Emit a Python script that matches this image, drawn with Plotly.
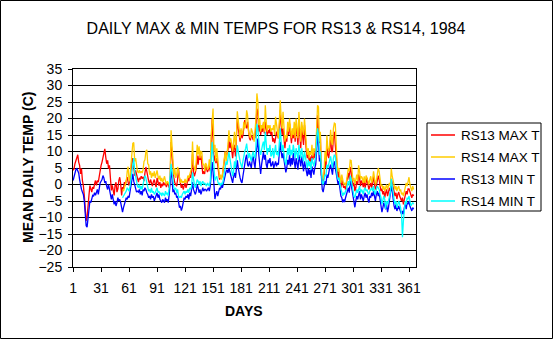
import plotly.graph_objects as go

# ---- data: daily mean temperatures, 1984 (deg C) ----
days = list(range(1, 367))
rs14_first_day = 54  # RS14 record begins on day 54

rs13_max = [
    4.3, 4.8, 6.3, 7.3, 8.3, 9.0, 6.8, 5.8, 3.2, 4.8,
    1.2, -0.3, -3.3, -7.4, -11.0, -10.0, -5.4, -3.3, -0.3, -1.8,
    -2.3, -0.8, -1.3, 0.2, 1.2, -0.3, 1.2, 0.7, 2.7, 3.7,
    5.8, 6.8, 8.3, 9.8, 10.8, 8.3, 6.3, 7.3, 4.8, 5.8,
    0.7, -1.8, -0.3, -2.3, -3.3, -0.3, 0.7, -2.3, -1.3, 1.2,
    2.2, 0.2, -3.3, -0.8, -1.3, 0.7, -0.3, 1.2, 2.2, 0.7,
    -0.3, 1.2, 4.8, 6.8, 8.0, 5.3, 2.7, 4.3, 3.2, 1.7,
    0.7, 2.0, 1.5, 2.5, 1.8, 2.3, 1.0, 3.5, 5.3, 4.0,
    2.0, 1.0, 0.3, 1.5, 0.5, -0.5, 0.8, 1.5, 0.2, -0.8,
    2.0, 0.5, -0.3, 0.7, -1.0, 0.2, -0.5, 0.7, -0.2, 0.3,
    -0.8, 0.5, 0.0, -1.0, 1.0, 12.9, 8.0, 6.3, 2.0, 0.5,
    0.0, -0.5, 1.5, 4.8, 2.0, -0.5, -1.0, 0.0, -1.5, -0.5,
    0.5, -1.0, 0.0, 2.0, 1.0, 3.0, 2.0, 4.0, 9.3, 4.0,
    2.5, 3.5, 5.0, 8.8, 6.0, 8.8, 7.5, 8.8, 5.0, 3.2,
    4.0, 3.2, 5.8, 4.5, 3.8, 4.5, 5.8, 4.0, 12.0, 20.0,
    14.0, 7.0, 8.8, 6.5, 8.0, 6.0, 2.7, 1.5, 2.5, 2.0,
    2.7, 4.5, 7.0, 10.0, 8.0, 9.5, 10.5, 13.9, 11.0, 12.8,
    9.0, 8.0, 11.0, 12.0, 8.5, 13.0, 20.0, 17.0, 15.0, 13.0,
    16.5, 14.0, 15.0, 17.0, 19.5, 18.0, 17.0, 19.0, 15.0, 14.0,
    13.4, 15.0, 14.5, 13.5, 15.0, 14.0, 18.0, 23.0, 22.0, 16.0,
    18.0, 15.0, 17.0, 16.0, 18.5, 15.5, 19.0, 17.0, 15.0, 16.5,
    15.5, 17.0, 15.0, 16.0, 13.0, 14.0, 12.5, 14.0, 16.0, 15.0,
    14.0, 17.0, 22.5, 18.0, 15.0, 17.0, 12.0, 11.0, 14.0, 13.0,
    17.0, 15.0, 18.5, 14.0, 12.5, 16.0, 14.0, 17.0, 13.0, 18.5,
    15.0, 12.0, 19.0, 16.0, 11.0, 17.0, 14.0, 12.0, 18.0, 13.0,
    10.0, 8.0, 9.5, 7.0, 8.5, 6.0, 9.0, 7.5, 10.0, 8.0,
    9.5, 14.0, 21.0, 16.0, 12.5, 15.0, 3.0, 1.5, 1.0, 2.5,
    8.0, 5.0, 12.0, 9.0, 8.0, 11.0, 14.5, 10.0, 10.0, 14.0,
    16.0, 12.0, 9.0, 5.0, 2.0, 4.0, 0.5, -1.0, 1.5, -0.5,
    -1.0, -0.5, -1.5, 0.5, 2.0, 3.5, 1.5, 5.3, 4.0, 1.0,
    -0.5, 0.5, -2.0, -1.0, 1.0, 0.0, 3.0, 2.0, -0.5, 1.2,
    0.5, -0.8, 1.2, -1.0, 0.5, 2.0, 0.0, -1.5, -0.5, 0.5,
    -1.0, 0.5, 2.5, 0.0, -1.5, -0.5, 1.0, 2.7, 1.5, 0.0,
    -2.0, -1.3, -3.0, -2.0, -4.0, -2.5, -1.5, -3.5, -2.0, -1.0,
    -2.0, 1.7, 0.5, -1.0, -2.3, -3.5, -2.5, -4.4, -3.0, -2.3,
    -3.5, -4.5, -5.0, -4.0, -6.0, -4.5, -3.5, -2.0, -3.0, -1.3,
    -1.3, -2.5, -3.5, -4.0, -3.0, -3.5,
]

rs14_max = [
    -1.5, -2.0, -1.0, 0.0, 1.0, 4.0, 5.4,
    1.0, 2.0, 6.0, 9.0, 12.5, 12.7, 7.0, 8.0, 5.0, 4.0,
    3.5, 4.3, 3.5, 4.0, 3.5, 4.5, 7.0, 7.5, 10.0, 10.5,
    6.3, 6.0, 3.0, 4.0, 2.0, 3.5, 2.5, 4.0, 2.0, 3.0,
    4.3, 2.5, 1.5, 2.7, 1.0, 2.0, 0.7, 1.5, 2.5, 1.0,
    0.0, 1.0, 0.5, 0.0, 2.0, 16.4, 11.9, 8.0, 3.0, 5.0,
    2.0, 3.0, 5.3, 4.0, 1.7, 0.5, 1.5, 0.5, 1.0, 0.5,
    1.7, 0.5, 1.0, 2.7, 2.0, 2.7, 4.0, 5.0, 13.0, 6.0,
    5.0, 4.0, 7.0, 12.0, 9.0, 11.6, 8.0, 10.0, 9.8, 6.0,
    6.3, 4.0, 6.5, 6.0, 4.5, 5.0, 7.6, 5.0, 15.0, 21.0,
    23.0, 10.0, 12.0, 7.0, 11.0, 8.0, 3.7, 2.0, 3.0, 1.5,
    3.0, 5.0, 8.0, 10.0, 7.0, 9.0, 12.0, 16.4, 13.0, 14.0,
    11.0, 10.0, 13.0, 16.0, 11.0, 14.0, 22.2, 19.0, 16.0, 14.0,
    17.0, 15.0, 16.0, 19.0, 17.0, 18.0, 22.5, 21.0, 16.0, 15.0,
    14.0, 17.0, 16.0, 15.0, 13.0, 16.0, 20.0, 27.6, 25.0, 18.0,
    20.0, 16.0, 18.0, 17.0, 19.0, 16.0, 24.0, 19.0, 16.0, 18.0,
    17.0, 18.0, 16.0, 17.0, 16.5, 18.0, 15.0, 20.5, 18.0, 16.0,
    14.0, 19.0, 25.5, 20.0, 17.0, 22.0, 15.0, 13.0, 15.0, 14.0,
    19.0, 16.0, 20.0, 15.0, 14.0, 17.0, 15.0, 19.0, 14.0, 20.0,
    16.0, 14.0, 22.0, 17.0, 13.0, 19.0, 16.0, 15.0, 20.0, 14.0,
    12.0, 9.0, 11.0, 8.0, 10.0, 9.0, 12.0, 8.5, 11.0, 10.0,
    11.0, 17.0, 24.0, 23.5, 13.0, 16.0, 4.0, 2.5, 1.5, 4.0,
    10.0, 7.0, 14.9, 11.0, 10.0, 12.0, 16.6, 13.0, 12.0, 17.0,
    18.6, 18.4, 10.0, 6.0, 4.0, 5.0, 2.0, 0.5, 3.0, 1.0,
    0.0, 0.5, -0.5, 1.0, 3.0, 5.0, 4.0, 7.4, 7.3, 3.0,
    1.0, 2.0, 0.0, 1.5, 3.0, 1.0, 5.8, 4.0, 1.5, 2.5,
    2.0, 0.5, 2.5, 0.5, 2.7, 2.0, 1.0, 0.0, 1.5, 2.5,
    0.5, 1.5, 4.0, 1.0, 0.0, 1.0, 2.5, 5.0, 4.0, 1.5,
    -0.5, 0.0, -1.5, -0.5, -2.0, -1.0, 0.0, -1.5, -0.5, 0.5,
    -0.5, 4.8, 2.5, 1.0, 0.0, -1.5, -0.5, -2.0, -1.0, -0.5,
    -2.0, -1.5, -3.0, -2.5, -3.5, -2.0, -1.0, 0.5, -0.5, 1.0,
    2.2, 0.0, -1.0, -2.0, -0.5, -1.5,
]

rs13_min = [
    1.2, 2.5, 3.5, 4.5, 4.8, 4.0, 3.5, 1.5, -1.0, -1.5,
    -2.3, -3.0, -5.0, -9.0, -12.5, -12.9, -10.0, -7.0, -5.0, -5.5,
    -4.0, -3.3, -3.5, -2.5, -3.3, -2.0, -1.5, -3.0, -1.0, 0.5,
    1.0, 1.5, 2.7, 2.0, 0.5, 1.0, -0.5, -1.5, 0.0, -2.0,
    -3.3, -4.5, -3.0, -5.4, -6.0, -5.0, -6.5, -5.5, -4.0, -5.0,
    -4.5, -5.5, -7.4, -8.4, -7.0, -6.0, -5.0, -4.0, -4.5, -3.5,
    -4.0, -2.0, 0.0, 2.0, 3.2, 1.0, 0.0, -1.0, -2.3, -2.0,
    -2.3, -1.5, -3.0, -2.0, -3.3, -1.5, -2.0, -1.0, -1.5, -2.5,
    -3.0, -4.0, -3.5, -4.5, -3.0, -4.0, -3.5, -5.0, -4.0, -3.5,
    -2.5, -4.0, -3.0, -4.5, -5.0, -5.5, -4.5, -5.0, -5.5, -4.0,
    -5.0, -4.5, -5.5, -3.0, 0.0, 4.3, 2.0, -2.3, -1.5, -3.0,
    -2.5, -4.0, -3.5, -6.0, -7.0, -6.5, -7.9, -7.0, -5.0, -4.0,
    -4.5, -3.5, -4.0, -3.0, -4.5, -2.5, -3.5, -2.0, 0.7, -1.5,
    -2.5, -3.0, -2.0, 0.0, -1.0, -2.5, -1.5, -3.0, -2.0, -1.0,
    -2.0, -1.5, -1.5, -2.0, -1.5, -1.0, -2.0, -0.5, 3.0, 6.8,
    4.0, -2.0, -4.4, -3.0, -2.0, -3.5, -2.0, -1.0, -1.5, 0.0,
    -1.0, 0.5, 2.0, 3.0, 4.0, 4.5, 3.5, 5.0, 4.0, 2.5,
    1.5, 0.5, 2.5, 3.5, 2.0, 5.0, 7.3, 5.0, 3.0, 2.0,
    1.0, 0.5, 2.5, 5.0, 6.0, 8.0, 9.0, 6.0, 5.5, 7.0,
    6.0, 5.0, 7.5, 8.5, 6.5, 5.0, 9.0, 12.0, 13.9, 9.0,
    5.0, 3.2, 6.0, 8.0, 9.8, 7.5, 9.0, 6.0, 5.0, 7.5,
    6.5, 8.0, 5.5, 6.0, 7.0, 5.0, 6.0, 7.0, 5.5, 6.5,
    6.0, 9.0, 12.9, 10.0, 8.0, 9.5, 7.0, 4.5, 3.7, 5.0,
    7.5, 6.0, 9.0, 5.5, 8.0, 6.0, 9.5, 7.0, 5.0, 8.0,
    6.5, 4.5, 9.0, 7.0, 5.5, 8.5, 6.0, 4.0, 7.0, 5.0,
    4.0, 2.5, 5.0, 3.0, 4.5, 2.0, 5.5, 4.0, 3.0, 5.0,
    6.0, 10.0, 16.0, 12.0, 7.0, 8.0, 0.5, -1.5, -2.3, -0.5,
    1.0, 0.0, 3.0, 2.0, 4.0, 5.0, 6.0, 4.0, 3.0, 6.0,
    7.0, 5.0, 3.0, 1.0, 0.0, 1.0, -2.0, -3.5, -4.0, -5.4,
    -4.5, -5.3, -4.0, -3.0, -2.0, -1.0, -2.5, 1.2, 0.0, -2.0,
    -4.0, -5.5, -6.9, -5.0, -3.5, -4.5, -3.0, -2.0, -4.5, -3.0,
    -4.0, -5.0, -3.5, -2.5, -4.0, -3.0, -4.5, -5.5, -3.5, -4.0,
    -2.5, -3.5, -2.0, -4.0, -5.0, -3.0, -2.0, -3.5, -2.5, -4.5,
    -6.0, -8.4, -7.0, -5.5, -6.5, -7.5, -6.0, -8.4, -7.0, -5.0,
    -4.0, -0.5, -2.0, -5.0, -6.5, -7.5, -6.0, -8.0, -7.0, -6.5,
    -7.5, -8.5, -9.0, -8.0, -9.0, -7.0, -6.0, -7.5, -5.5, -6.0,
    -5.0, -6.5, -7.5, -8.0, -7.0, -7.5,
]

rs14_min = [
    -4.0, -3.5, -3.0, -2.5, -2.0, -1.0, -1.5,
    -2.0, -0.5, 2.0, 4.5, 6.3, 8.0, 4.0, 2.0, 0.0, -0.5,
    -1.0, 0.0, -1.5, -0.5, -1.5, 0.5, 1.5, 2.7, 2.0, 0.5,
    -1.0, -2.0, -1.5, -2.5, -1.0, -2.5, -2.0, -3.0, -2.5, -1.5,
    -1.0, -2.5, -2.0, -3.0, -2.5, -3.5, -2.5, -3.0, -3.5, -2.0,
    -3.0, -2.5, -3.5, -1.0, 2.0, 6.3, 4.0, 0.0, -1.0, -1.5,
    -1.0, -2.5, -1.5, -3.5, -4.0, -3.5, -4.0, -3.0, -2.5, -2.0,
    -3.0, -2.0, -2.5, -1.5, -2.5, -1.0, -1.5, -0.5, 3.7, 1.0,
    0.0, -1.0, 0.5, 1.5, 1.0, 0.0, 1.0, -0.5, 0.5, 1.0,
    0.0, 0.5, 0.0, -0.5, 0.5, 0.0, -0.5, 1.0, 6.0, 12.9,
    9.0, 3.2, 1.2, 2.0, 2.5, 1.0, 0.0, 0.5, -0.5, 0.5,
    0.0, 1.5, 4.0, 5.0, 7.0, 6.0, 7.5, 9.8, 8.0, 6.0,
    3.0, 2.5, 4.0, 7.0, 5.0, 8.0, 11.9, 10.0, 8.0, 7.0,
    6.0, 5.0, 7.0, 9.0, 10.0, 11.0, 12.4, 10.0, 8.0, 9.5,
    8.0, 7.0, 9.0, 10.0, 8.5, 8.0, 12.0, 18.4, 17.0, 13.0,
    10.0, 9.0, 11.0, 12.0, 13.0, 10.5, 16.0, 12.0, 9.0, 11.0,
    10.0, 12.0, 8.5, 9.0, 11.0, 8.0, 9.5, 12.0, 9.0, 10.0,
    8.5, 12.0, 17.0, 13.0, 10.0, 12.0, 9.0, 7.0, 6.0, 8.0,
    11.0, 9.0, 12.0, 8.5, 10.5, 9.0, 12.0, 10.0, 8.0, 11.0,
    9.5, 7.5, 12.0, 10.0, 8.0, 11.0, 9.0, 7.0, 10.0, 8.0,
    6.5, 5.0, 7.5, 5.5, 7.0, 4.5, 8.0, 6.0, 5.5, 7.0,
    8.5, 13.0, 17.0, 15.0, 9.0, 10.0, 2.5, 0.5, 0.0, 1.5,
    3.0, 2.5, 6.0, 5.0, 6.5, 7.0, 8.5, 6.5, 5.0, 8.0,
    9.0, 8.5, 5.0, 2.5, 1.5, 2.0, 0.0, -1.5, -2.0, -3.5,
    -2.5, -3.0, -2.0, -1.5, 0.0, 1.0, -0.5, 2.7, 1.5, -0.5,
    -2.0, -3.5, -4.0, -3.0, -1.5, -2.5, -1.0, -0.5, -2.5, -1.5,
    -2.0, -3.0, -1.5, -1.0, -2.0, -1.5, -2.5, -3.0, -2.0, -1.5,
    -1.0, -2.0, -0.5, -2.5, -3.0, -1.5, -0.5, -1.0, -1.5, -3.0,
    -4.0, -6.0, -5.0, -3.5, -4.5, -7.4, -5.0, -6.0, -5.0, -3.5,
    -2.5, 1.7, -0.5, -3.5, -4.5, -6.0, -5.0, -7.0, -6.0, -5.0,
    -6.0, -7.0, -9.0, -16.0, -11.0, -6.0, -5.0, -6.0, -4.0, -4.5,
    -3.5, -5.0, -6.5, -6.0, -5.5, -6.0,
]

series_names = ["RS13 MAX T", "RS14 MAX T", "RS13 MIN T", "RS14 MIN T"]
series_colors = ["#FF0000", "#FFCC00", "#0000FF", "#00FFFF"]

x_tick_days = list(range(1, 367, 30))
y_ticks = list(range(-25, 40, 5))

for s in (rs13_max, rs13_min):
    assert len(s) == len(days), len(s)
for s in (rs14_max, rs14_min):
    assert len(s) == len(days) - rs14_first_day + 1, len(s)

rs14_days = days[rs14_first_day - 1:]

# ---- figure geometry (pixels) ----
W, H = 553, 339
L, R, T, B = 73, 137, 69, 72
PW, PH = W - L - R, H - T - B


def px(x):
    return (x - L) / PW


def py(y):
    return 1 - (y - T) / PH


FONT = "Liberation Sans, Arial, sans-serif"

fig = go.Figure()
for name, color, xs, ys in zip(
    series_names,
    series_colors,
    [days, rs14_days, days, rs14_days],
    [rs13_max, rs14_max, rs13_min, rs14_min],
):
    fig.add_trace(go.Scatter(
        x=xs, y=ys, name=name, mode="lines",
        line=dict(color=color, width=1.3), showlegend=False,
    ))

# key box drawn beside the plot: frame, colour swatches and labels
key_left, key_right, key_top, key_bottom = 427, 541, 123, 211
key_rows = [135, 157, 179, 201]
shapes = [
    # outer chart frame
    dict(type="rect", xref="paper", yref="paper",
         x0=px(0.5), x1=px(W - 0.5), y0=py(H - 0.5), y1=py(0.5),
         line=dict(color="black", width=1), layer="below"),
    dict(type="rect", xref="paper", yref="paper",
         x0=px(key_left), x1=px(key_right), y0=py(key_bottom), y1=py(key_top),
         line=dict(color="black", width=1), fillcolor="white"),
]
annotations = [
    dict(text="<b>MEAN DAILY TEMP (C)</b>", x=px(28), y=py(168),
         xref="paper", yref="paper", showarrow=False, textangle=-90,
         xanchor="center", yanchor="middle",
         font=dict(family=FONT, size=14, color="black")),
    dict(text="<b>DAYS</b>", x=px(244), y=py(311),
         xref="paper", yref="paper", showarrow=False,
         xanchor="center", yanchor="middle",
         font=dict(family=FONT, size=14, color="black")),
]
for name, color, row in zip(series_names, series_colors, key_rows):
    shapes.append(dict(type="line", xref="paper", yref="paper",
                       x0=px(431), x1=px(455), y0=py(row), y1=py(row),
                       line=dict(color=color, width=1.5)))
    annotations.append(dict(text=name, x=px(459), y=py(row),
                            xref="paper", yref="paper", showarrow=False,
                            xanchor="left", yanchor="middle",
                            font=dict(family=FONT, size=13.5, color="black")))

fig.update_layout(
    width=W, height=H,
    margin=dict(l=L, r=R, t=T, b=B, autoexpand=False),
    paper_bgcolor="white", plot_bgcolor="white",
    font=dict(family=FONT, size=13, color="black"),
    title=dict(
        text="DAILY MAX & MIN TEMPS FOR RS13 & RS14, 1984",
        x=276 / W, xref="container", xanchor="center",
        y=1 - 28 / H, yref="container", yanchor="middle",
        font=dict(family=FONT, size=16, color="black"),
    ),
    showlegend=False,
    xaxis=dict(
        range=[0.9, 368.5], tickvals=x_tick_days,
        ticktext=[str(d) for d in x_tick_days],
        ticks="outside", ticklen=4, tickcolor="black", tickwidth=1,
        ticklabelstandoff=4,
        showline=True, linecolor="black", linewidth=1, mirror=True,
        showgrid=False, zeroline=False,
        tickfont=dict(family=FONT, size=14, color="black"),
    ),
    yaxis=dict(
        range=[-25, 35], tickvals=y_ticks,
        ticks="outside", ticklen=4, tickcolor="black", tickwidth=1,
        ticklabelstandoff=3,
        showline=True, linecolor="black", linewidth=1, mirror=True,
        showgrid=True, gridcolor="black", gridwidth=1, zeroline=False,
        tickfont=dict(family=FONT, size=14, color="black"),
    ),
    annotations=annotations,
    shapes=shapes,
)

fig.write_html("out.html")
